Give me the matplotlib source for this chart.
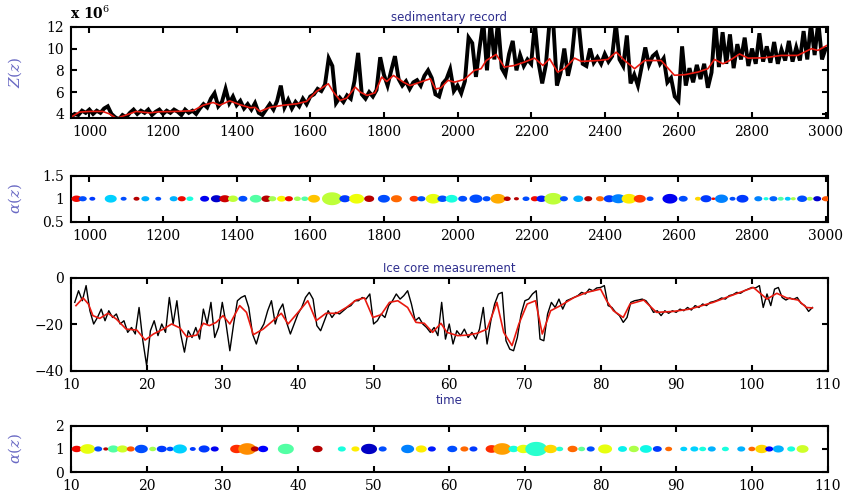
import numpy as np
import matplotlib
matplotlib.use("Agg")
import matplotlib.pyplot as plt

plt.rcParams['font.family'] = ['DejaVu Serif']
plt.rcParams['mathtext.fontset'] = 'dejavuserif'

# --- sedimentary record, values in units of 1e6 ---
sed_years = np.arange(950, 3001, 10)
sed_raw = [
    3.7, 4.0, 3.9, 4.3, 4.1, 4.4, 4.0, 4.3, 4.1, 4.5,
    4.7, 4.0, 3.7, 3.5, 3.9, 3.7, 4.1, 4.4, 4.0, 4.3,
    4.1, 4.4, 3.9, 4.2, 4.4, 4.0, 4.3, 4.1, 4.4, 4.2,
    3.9, 4.4, 4.1, 4.3, 4.0, 4.5, 4.9, 4.6, 5.4, 5.9,
    4.7, 5.1, 6.3, 5.0, 5.6, 4.8, 5.2, 4.5, 4.9, 4.4,
    5.0, 4.1, 3.9, 4.4, 4.9, 4.4, 5.2, 6.6, 4.6, 5.3,
    4.5, 5.1, 4.7, 5.4, 4.9, 5.6, 5.8, 6.3, 6.1, 6.7,
    9.1, 8.4, 5.0, 5.5, 5.1, 5.7, 5.4, 7.0, 9.6, 5.8,
    5.4, 6.0, 5.6, 6.2, 9.2, 7.6, 6.6, 8.0, 9.3, 7.2,
    6.6, 7.0, 6.3, 6.9, 7.1, 6.6, 7.5, 8.0, 7.3, 5.8,
    5.6, 6.8, 7.2, 8.1, 6.1, 6.6, 5.9, 7.0, 11.0, 10.5,
    7.4, 10.1, 12.5, 8.0, 12.5, 9.0, 12.5, 8.2, 7.6, 9.5,
    10.7, 8.0, 9.4, 8.4, 9.0, 8.6, 12.3, 8.7, 6.8, 8.5,
    12.5, 12.4, 6.6, 7.8, 10.0, 7.5, 9.0, 12.5, 12.0, 8.6,
    8.4, 10.0, 8.7, 9.2, 8.6, 9.5, 8.8, 9.3, 12.3, 9.0,
    8.4, 11.2, 6.8, 7.6, 6.6, 8.3, 10.1, 8.5, 9.3, 9.6,
    8.6, 9.1, 6.9, 7.3, 5.6, 5.2, 10.2, 6.6, 8.2, 6.9,
    8.5, 7.2, 8.6, 6.4, 7.8, 12.5, 8.3, 11.5, 8.6, 11.3,
    8.2, 10.4, 9.0, 11.0, 8.4, 10.0, 8.6, 11.4, 8.8, 10.2,
    8.7, 10.6, 8.6, 9.9, 8.9, 10.7, 8.8, 10.1, 8.9, 11.6,
    9.0, 12.3, 9.4, 12.5, 9.0, 10.0,
]
sed_smooth_x = [
    950, 973, 1000, 1036, 1055, 1073, 1100, 1127, 1163, 1190, 1236, 1282,
    1309, 1336, 1354, 1381, 1409, 1436, 1450, 1463, 1490, 1527, 1563, 1590,
    1617, 1649, 1663, 1681, 1699, 1722, 1736, 1754, 1776, 1794, 1808, 1826,
    1853, 1871, 1899, 1926, 1940, 1954, 1974, 1992, 2019, 2046, 2064, 2078,
    2105, 2127, 2155, 2182, 2209, 2232, 2250, 2272, 2290, 2318, 2336, 2381,
    2408, 2431, 2454, 2481, 2508, 2553, 2589, 2617, 2653, 2680, 2698, 2721,
    2739, 2766, 2789, 2834, 2879, 2924, 2961, 2979, 3004,
]
sed_smooth = [
    3.7, 4.17, 4.23, 4.23, 4.0, 3.6, 3.9, 4.23, 4.1, 4.2, 4.23, 4.3,
    4.8, 5.05, 4.8, 5.2, 4.85, 4.57, 4.6, 4.23, 4.6, 4.8, 4.93, 5.15,
    6.07, 6.77, 6.0, 5.24, 5.45, 6.46, 6.0, 5.7, 5.94, 7.38, 6.98, 7.53,
    6.92, 6.6, 6.92, 7.23, 6.3, 6.37, 7.08, 6.92, 7.17, 8.0, 8.15, 8.9,
    9.46, 8.3, 8.45, 8.76, 9.12, 8.45, 9.06, 7.84, 8.15, 9.12, 8.82, 8.9,
    9.0, 9.67, 8.9, 8.15, 8.9, 8.9, 7.55, 7.6, 7.84, 8.15, 9.0, 8.6,
    8.9, 9.5, 9.12, 9.15, 9.37, 9.37, 9.98, 9.83, 10.3,
]

# bubble rows: position, bubble width (px), colour value on the jet scale
sed_bub_x = [
    965, 982, 1008, 1058, 1093, 1128, 1152, 1187, 1229, 1251, 1273, 1313,
    1345, 1368, 1390, 1417, 1452, 1481, 1497, 1522, 1542, 1565, 1585, 1610,
    1659, 1694, 1726, 1760, 1800, 1834, 1882, 1902, 1934, 1959, 1984, 2014,
    2050, 2079, 2110, 2135, 2160, 2186, 2210, 2228, 2260, 2289, 2328, 2355,
    2387, 2412, 2437, 2466, 2495, 2523, 2577, 2613, 2653, 2675, 2695, 2717,
    2747, 2774, 2817, 2838, 2858, 2878, 2897, 2912, 2936, 2957, 2977, 3001,
]
sed_bub_w = [
    10, 8, 6, 12, 6, 6, 8, 6, 8, 8, 7, 9,
    11, 11, 10, 9, 12, 10, 8, 9, 8, 7, 7, 12,
    20, 11, 15, 10, 12, 11, 9, 8, 15, 10, 12, 9,
    13, 8, 15, 7, 5, 7, 8, 10, 18, 8, 10, 8,
    8, 11, 14, 15, 12, 7, 15, 9, 6, 11, 4, 13,
    6, 12, 8, 5, 8, 6, 6, 5, 10, 6, 8, 8,
]
sed_bub_c = [
    0.9, 0.2, 0.18, 0.33, 0.2, 0.95, 0.3, 0.2, 0.3, 0.9, 0.38, 0.1,
    0.07, 0.93, 0.58, 0.2, 0.45, 0.95, 0.55, 0.65, 0.9, 0.55, 0.45, 0.7,
    0.58, 0.18, 0.64, 0.95, 0.2, 0.8, 0.85, 0.2, 0.63, 0.2, 0.38, 0.2,
    0.2, 0.2, 0.73, 0.95, 0.95, 0.2, 0.9, 0.15, 0.58, 0.2, 0.3, 0.95,
    0.8, 0.18, 0.25, 0.66, 0.85, 0.2, 0.1, 0.2, 0.68, 0.18, 0.9, 0.25,
    0.2, 0.18, 0.25, 0.38, 0.22, 0.45, 0.32, 0.55, 0.2, 0.55, 0.07, 0.82,
]

# --- ice core measurement ---
ice_t = np.arange(10.5, 108.01, 0.5)
ice_raw = [
    -10.6, -5.6, -9.9, -3.4, -14.2, -19.9, -17.1, -13.5, -18.5, -14.2,
    -17.1, -15.6, -19.9, -18.5, -23.5, -21.4, -24.2, -12.8, -27.1, -37.8,
    -22.8, -18.5, -24.9, -19.9, -23.5, -8.5, -19.9, -9.9, -24.2, -32.0,
    -22.8, -25.7, -21.4, -26.4, -13.5, -19.9, -10.6, -25.7, -21.4, -10.6,
    -19.9, -31.4, -19.9, -9.9, -8.5, -7.7, -12.8, -24.2, -28.5, -22.8,
    -19.9, -14.2, -9.9, -19.9, -14.2, -11.3, -19.2, -24.2, -19.9, -15.6,
    -12.8, -8.5, -6.3, -9.2, -20.6, -22.8, -18.5, -14.2, -17.1, -14.9,
    -15.6, -14.2, -12.8, -12.0, -9.9, -9.9, -8.5, -9.2, -7.0, -19.9,
    -18.5, -15.6, -17.1, -12.0, -9.9, -7.0, -9.2, -7.7, -5.6, -11.3,
    -18.5, -17.1, -19.9, -21.4, -23.5, -21.4, -24.9, -10.6, -26.4, -19.9,
    -28.5, -22.8, -24.9, -22.1, -25.7, -23.5, -26.4, -22.1, -12.8, -28.5,
    -18.5, -11.3, -7.0, -6.3, -27.1, -30.7, -31.4, -25.7, -15.6, -9.9,
    -9.2, -7.0, -5.6, -26.4, -27.1, -15.6, -10.6, -12.8, -9.2, -13.5,
    -9.9, -9.2, -8.5, -7.7, -6.3, -7.0, -4.9, -5.6, -4.4, -4.2,
    -3.4, -12.0, -12.8, -14.9, -16.3, -19.2, -17.1, -10.6, -9.9, -9.6,
    -9.2, -9.9, -12.0, -14.9, -14.2, -16.3, -14.2, -15.3, -14.2, -14.9,
    -13.5, -14.2, -12.8, -13.9, -12.0, -12.8, -11.3, -12.0, -10.6, -10.2,
    -9.6, -8.7, -9.2, -7.7, -7.3, -6.3, -6.7, -5.6, -4.9, -4.2,
    -4.4, -3.4, -12.8, -7.0, -12.0, -4.9, -4.2, -8.5, -9.6, -8.7,
    -9.3, -8.5, -11.0, -12.0, -14.5, -12.8,
]
ice_smooth_t = [
    10.66, 11.6, 12.3, 12.9, 13.8, 14.9, 16.0, 17.3, 18.7, 19.8, 20.9, 22.2,
    23.3, 24.4, 25.3, 26.6, 27.5, 28.3, 29.2, 30.1, 31.0, 32.3, 33.2, 34.1,
    35.4, 36.7, 37.8, 38.7, 40.2, 41.3, 42.4, 43.7, 45.1, 46.4, 47.7, 48.8,
    49.9, 51.0, 52.1, 53.2, 54.5, 55.6, 56.7, 57.8, 58.9, 59.7, 61.1, 62.4,
    63.7, 65.0, 66.3, 67.2, 68.3, 69.2, 70.3, 71.4, 72.3, 73.4, 74.7, 76.5,
    78.2, 80.0, 80.8, 81.7, 83.0, 83.9, 85.7, 87.4, 89.6, 91.8, 94.9, 97.6,
    100.2, 102.0, 103.3, 104.6, 106.1, 107.2, 108.0,
]
ice_smooth = [
    -12.0, -8.7, -11.3, -16.3, -17.5, -15.3, -17.8, -22.1, -22.5, -26.8, -24.2, -22.1,
    -19.9, -21.6, -25.4, -24.7, -19.6, -20.6, -19.2, -16.3, -19.9, -12.0, -14.9, -24.5,
    -22.1, -18.5, -15.3, -19.9, -14.2, -9.9, -18.5, -15.3, -15.3, -12.8, -9.6, -8.7,
    -17.1, -15.9, -10.6, -9.9, -12.8, -19.2, -19.6, -23.5, -19.6, -23.5, -24.9, -24.7,
    -23.9, -22.1, -10.6, -23.5, -29.2, -19.9, -11.3, -9.9, -24.2, -14.2, -12.0, -8.5,
    -6.3, -4.9, -9.9, -14.2, -17.1, -11.3, -9.6, -14.9, -14.5, -13.5, -10.6, -7.3,
    -4.2, -9.2, -6.7, -8.7, -9.6, -12.8, -13.0,
]

ice_bub_x = [
    10.75, 12.2, 13.6, 14.6, 15.6, 16.8, 17.9, 19.3, 20.8, 22.0, 23.1, 24.4,
    26.1, 27.6, 29.0, 31.9, 33.3, 34.3, 35.4, 38.4, 42.6, 45.8, 47.6, 49.4,
    51.2, 54.5, 56.3, 57.7, 60.4, 62.0, 63.2, 65.6, 67.0, 68.5, 69.8, 71.5,
    73.4, 74.6, 76.3, 77.5, 78.7, 80.6, 82.9, 84.4, 86.0, 87.5, 89.0, 91.0,
    92.4, 93.5, 94.7, 96.5, 98.6, 100.0, 101.3, 102.3, 103.5, 105.2, 106.7,
]
ice_bub_w = [
    10, 15, 8, 5, 11, 11, 8, 13, 7, 10, 7, 14,
    6, 11, 8, 13, 18, 8, 10, 16, 10, 8, 8, 16,
    8, 13, 11, 8, 10, 8, 8, 12, 18, 10, 13, 22,
    13, 7, 10, 7, 8, 14, 9, 10, 12, 9, 7, 7,
    8, 7, 8, 7, 8, 7, 13, 8, 11, 8, 12,
]
ice_bub_c = [
    0.9, 0.63, 0.2, 0.95, 0.45, 0.6, 0.82, 0.2, 0.55, 0.18, 0.2, 0.33,
    0.18, 0.18, 0.1, 0.86, 0.76, 0.95, 0.12, 0.45, 0.95, 0.38, 0.66, 0.06,
    0.2, 0.25, 0.66, 0.15, 0.2, 0.8, 0.18, 0.86, 0.74, 0.38, 0.63, 0.4,
    0.68, 0.4, 0.8, 0.47, 0.2, 0.63, 0.36, 0.56, 0.37, 0.18, 0.8, 0.33,
    0.33, 0.38, 0.3, 0.38, 0.3, 0.8, 0.68, 0.12, 0.3, 0.38, 0.6,
]

navy = '#2e2e8e'
lavender = '#6a6ac4'

# horizontally stretched ellipse used as bubble marker
tt = np.linspace(0, 2 * np.pi, 50)
ellipse = np.column_stack([1.55 * np.cos(tt), np.sin(tt)])


def frame(ax):
    for s in ax.spines.values():
        s.set_linewidth(1.5)
    ax.tick_params(direction='in', top=True, right=True, length=4, width=1.5,
                   labelsize=10, pad=5)


def bubbles(ax, x, w, c):
    sizes = (np.array(w) * 0.72) ** 2
    ax.scatter(x, np.ones(len(x)), s=sizes, c=c, cmap='jet', vmin=0, vmax=1,
               marker=ellipse, linewidths=0, zorder=3)


fig = plt.figure(figsize=(8.51, 4.95), dpi=100)

ax1 = fig.add_axes([0.0834, 0.761, 0.889, 0.185])
ax1.plot(sed_years, sed_raw, color='black', lw=2.8, solid_joinstyle='miter')
ax1.plot(sed_smooth_x, sed_smooth, color='#e8190f', lw=1.2)
ax1.set_xlim(950, 3005)
ax1.set_ylim(3.6, 12)
ax1.set_xticks(np.arange(1000, 3001, 200))
ax1.set_yticks([4, 6, 8, 10, 12])
ax1.set_title('sedimentary record', fontsize=8.5, color=navy,
              family='DejaVu Sans', pad=4)
ax1.set_ylabel('$Z(z)$', color=lavender, fontsize=11)
ax1.yaxis.set_label_coords(-0.062, 0.5)
frame(ax1)
fig.text(0.082, 0.962, r'x 10$^6$', fontsize=10, fontweight='bold')

ax2 = fig.add_axes([0.0834, 0.552, 0.889, 0.093])
bubbles(ax2, sed_bub_x, sed_bub_w, sed_bub_c)
ax2.set_xlim(950, 3005)
ax2.set_ylim(0.5, 1.5)
ax2.set_xticks(np.arange(1000, 3001, 200))
ax2.set_yticks([0.5, 1, 1.5])
ax2.set_yticklabels(['0.5', '1', '1.5'])
ax2.set_ylabel(r'$\alpha(z)$', color=lavender, fontsize=11)
ax2.yaxis.set_label_coords(-0.062, 0.5)
frame(ax2)

ax3 = fig.add_axes([0.0834, 0.251, 0.889, 0.188])
ax3.plot(ice_t, ice_raw, color='black', lw=1.0)
ax3.plot(ice_smooth_t, ice_smooth, color='#e8190f', lw=1.2)
ax3.set_xlim(10, 110)
ax3.set_ylim(-40, 0)
ax3.set_xticks(np.arange(10, 111, 10))
ax3.set_yticks([-40, -20, 0])
ax3.set_title('Ice core measurement', fontsize=8.5, color=navy,
              family='DejaVu Sans', pad=4)
ax3.set_xlabel('time', fontsize=8.5, color=navy, family='DejaVu Sans',
               labelpad=2)
frame(ax3)

ax4 = fig.add_axes([0.0834, 0.046, 0.889, 0.094])
bubbles(ax4, ice_bub_x, ice_bub_w, ice_bub_c)
ax4.set_xlim(10, 110)
ax4.set_ylim(0, 2)
ax4.set_xticks(np.arange(10, 111, 10))
ax4.set_yticks([0, 1, 2])
ax4.set_ylabel(r'$\alpha(z)$', color=lavender, fontsize=11)
ax4.yaxis.set_label_coords(-0.062, 0.5)
frame(ax4)

fig.savefig('out.png', dpi=100)
